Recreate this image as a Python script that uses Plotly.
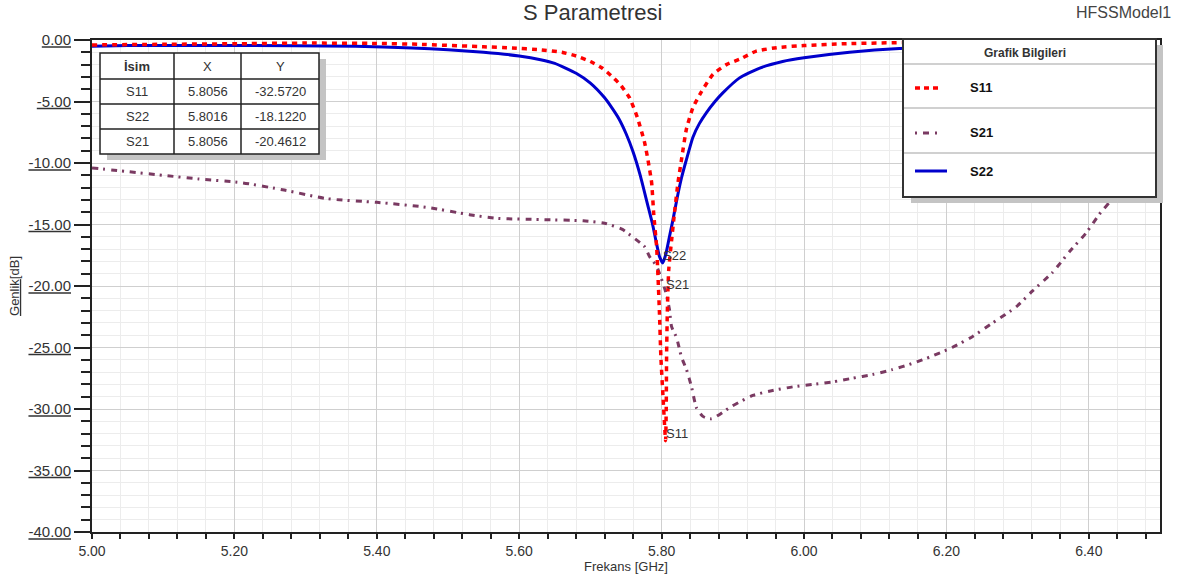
import plotly.graph_objects as go

# ---------------- data ----------------
s11_f = [5.00, 5.10, 5.21, 5.30, 5.40, 5.46, 5.55, 5.59, 5.63, 5.66, 5.68, 5.70, 5.717, 5.731,
         5.743, 5.755, 5.766, 5.776, 5.781, 5.786, 5.789, 5.793, 5.795, 5.797, 5.799, 5.802,
         5.8056, 5.8065, 5.807, 5.808, 5.810, 5.814, 5.818, 5.823, 5.828, 5.835, 5.844, 5.856,
         5.872, 5.891, 5.912, 5.933, 5.965, 6.00, 6.06, 6.15, 6.22, 6.30, 6.38, 6.44, 6.50]
s11_db = [-0.40, -0.35, -0.30, -0.25, -0.28, -0.35, -0.55, -0.65, -0.80, -1.0, -1.3, -1.75, -2.3, -3.0,
          -3.7, -4.7, -6.3, -8.3, -9.8, -11.6, -14.2, -16.8, -19.3, -22.2, -25.8, -29.0,
          -32.572, -30.0, -25.8, -22.2, -18.7, -16.3, -14.1, -11.6, -9.7, -7.2, -5.5, -4.2,
          -2.8, -2.0, -1.5, -0.9, -0.6, -0.45, -0.3, -0.2, -0.2, -0.4, -0.9, -1.9, -4.5]

s22_f = [5.00, 5.05, 5.20, 5.37, 5.45, 5.50, 5.55, 5.60, 5.63, 5.65, 5.68, 5.70, 5.72, 5.73,
         5.74, 5.75, 5.76, 5.77, 5.78, 5.787, 5.792, 5.797, 5.8016, 5.806, 5.811, 5.816, 5.822,
         5.828, 5.834, 5.844, 5.853, 5.863, 5.875, 5.886, 5.909, 5.937, 5.97, 6.00, 6.064,
         6.134, 6.20, 6.30, 6.40, 6.46, 6.50]
s22_db = [-0.5, -0.45, -0.45, -0.5, -0.65, -0.8, -1.0, -1.3, -1.6, -1.9, -2.7, -3.5, -4.7, -5.5,
          -6.4, -7.6, -9.1, -11.0, -13.3, -14.9, -16.3, -17.6, -18.122, -17.4, -16.0, -14.6, -12.8,
          -11.2, -9.9, -7.9, -6.8, -5.9, -5.0, -4.3, -3.1, -2.3, -1.75, -1.45, -1.0,
          -0.7, -0.6, -0.7, -1.3, -2.0, -3.0]

s21_f = [5.00, 5.05, 5.10, 5.15, 5.21, 5.27, 5.33, 5.40, 5.47, 5.53, 5.57, 5.63, 5.69, 5.72,
         5.745, 5.759, 5.776, 5.783, 5.793, 5.8056, 5.811, 5.814, 5.821, 5.828, 5.835, 5.842,
         5.849, 5.858, 5.870, 5.898, 5.928, 5.956, 5.984, 6.012, 6.04, 6.068, 6.096, 6.124,
         6.152, 6.18, 6.208, 6.237, 6.265, 6.298, 6.321, 6.349, 6.373, 6.396, 6.417, 6.429,
         6.46, 6.50]
s21_db = [-10.4, -10.7, -11.0, -11.3, -11.6, -12.2, -12.9, -13.2, -13.6, -14.2, -14.5, -14.6, -14.7, -14.9,
          -15.4, -16.0, -16.8, -17.6, -18.4, -20.4612, -21.9, -23.3, -24.2, -25.8, -26.8, -28.2,
          -29.9, -30.6, -30.8, -29.8, -28.9, -28.5, -28.2, -28.0, -27.8, -27.5, -27.2, -26.8,
          -26.3, -25.7, -25.0, -24.1, -23.0, -21.7, -20.4, -18.9, -17.2, -15.7, -14.0, -13.2,
          -11.0, -8.5]

# marker table
mk_names = ["S11", "S22", "S21"]
mk_x = [5.8056, 5.8016, 5.8056]
mk_y = [-32.5720, -18.1220, -20.4612]

y_ticks = [0, -5, -10, -15, -20, -25, -30, -35, -40]
x_ticks = [5.0, 5.2, 5.4, 5.6, 5.8, 6.0, 6.2, 6.4]

# ---------------- layout geometry (pixels) ----------------
W, H = 1191, 580
PX0, PX1, PY0, PY1 = 92, 1160, 40, 532
FONT = "Arial, Liberation Sans, sans-serif"
TXT = "#333333"


def px(x):
    return (x - PX0) / (PX1 - PX0)


def py(y):
    return (PY1 - y) / (PY1 - PY0)


fig = go.Figure()

fig.add_trace(go.Scatter(x=s21_f, y=s21_db, mode="lines", name="S21",
                         line=dict(color="#7a3a62", width=3, dash="6px,5px,2px,6px",
                                   shape="spline", smoothing=0.6)))
fig.add_trace(go.Scatter(x=s22_f, y=s22_db, mode="lines", name="S22",
                         line=dict(color="#0000cc", width=3, shape="spline", smoothing=0.5)))
fig.add_trace(go.Scatter(x=s11_f, y=s11_db, mode="lines", name="S11",
                         line=dict(color="#ff0000", width=3.5, dash="5px,5px",
                                   shape="spline", smoothing=0.5)))

shapes = []
annotations = []

# marker labels on curves
for n, x, y in zip(mk_names, mk_x, mk_y):
    annotations.append(dict(x=x, y=y, xref="x", yref="y", text=n, showarrow=False,
                            xanchor="left", yanchor="middle", yshift=7, xshift=-2,
                            font=dict(family=FONT, size=13, color=TXT)))

# ---- marker table (top-left) ----
tx0, tx1, ty0, ty1 = 100, 319, 53, 154
cols = [100, 174, 241, 319]
rows = [53, 79, 104, 129, 154]
shapes.append(dict(type="rect", xref="paper", yref="paper", x0=px(tx0 + 7), x1=px(tx1 + 7),
                   y0=py(ty1 + 6), y1=py(ty0 + 6), fillcolor="#c4c4c4", line=dict(width=0), layer="above"))
shapes.append(dict(type="rect", xref="paper", yref="paper", x0=px(tx0), x1=px(tx1),
                   y0=py(ty1), y1=py(ty0), fillcolor="white", line=dict(color="#222", width=1.5), layer="above"))
for c in cols[1:-1]:
    shapes.append(dict(type="line", xref="paper", yref="paper", x0=px(c), x1=px(c),
                       y0=py(ty1), y1=py(ty0), line=dict(color="#222", width=1.5), layer="above"))
for r in rows[1:-1]:
    shapes.append(dict(type="line", xref="paper", yref="paper", x0=px(tx0), x1=px(tx1),
                       y0=py(r), y1=py(r), line=dict(color="#222", width=1.5), layer="above"))
header = ["<b>İsim</b>", "X", "Y"]
cells = [header] + [[n, f"{x:.4f}", f"{y:.4f}"] for n, x, y in zip(mk_names, mk_x, mk_y)]
for ri, row in enumerate(cells):
    yc = (rows[ri] + rows[ri + 1]) / 2
    for ci, t in enumerate(row):
        xc = (cols[ci] + cols[ci + 1]) / 2
        annotations.append(dict(x=px(xc), y=py(yc), xref="paper", yref="paper", text=t,
                                showarrow=False, xanchor="center", yanchor="middle",
                                font=dict(family=FONT, size=13, color=TXT)))

# ---- custom legend box (top-right) ----
lx0, lx1, ly0, ly1 = 903, 1156, 39, 197
shapes.append(dict(type="rect", xref="paper", yref="paper", x0=px(lx0 + 8), x1=px(lx1 + 7),
                   y0=py(ly1 + 6), y1=py(ly0 + 6), fillcolor="#c4c4c4", line=dict(width=0), layer="above"))
shapes.append(dict(type="rect", xref="paper", yref="paper", x0=px(lx0), x1=px(lx1),
                   y0=py(ly1), y1=py(ly0), fillcolor="white", line=dict(color="#333", width=2), layer="above"))
for sy in [64, 108, 153]:
    shapes.append(dict(type="line", xref="paper", yref="paper", x0=px(lx0 + 1), x1=px(lx1 - 1),
                       y0=py(sy), y1=py(sy), line=dict(color="#d0d0d0", width=2), layer="above"))
annotations.append(dict(x=px(1025), y=py(53), xref="paper", yref="paper", text="<b>Grafik Bilgileri</b>",
                        showarrow=False, xanchor="center", yanchor="middle",
                        font=dict(family=FONT, size=12, color=TXT)))
leg_items = [("S11", 88, "#ff0000", "5px,4px", 3.5, 942),
             ("S21", 133, "#7a3a62", "2px,6px,6px,6px", 3, 942),
             ("S22", 171, "#0000cc", "solid", 3, 947)]
for name, yy, col, dash, w, xe in leg_items:
    shapes.append(dict(type="line", xref="paper", yref="paper", x0=px(915), x1=px(xe),
                       y0=py(yy), y1=py(yy), line=dict(color=col, width=w, dash=dash), layer="above"))
    annotations.append(dict(x=px(968), y=py(yy), xref="paper", yref="paper", text=f"<b>{name}</b>",
                            showarrow=False, xanchor="left", yanchor="middle",
                            font=dict(family=FONT, size=13, color="#111")))

# ---- titles ----
annotations.append(dict(x=px(592), y=py(13), xref="paper", yref="paper", text="S Parametresi",
                        showarrow=False, xanchor="center", yanchor="middle",
                        font=dict(family=FONT, size=22, color=TXT)))
annotations.append(dict(x=px(1173), y=py(12), xref="paper", yref="paper", text="HFSSModel1",
                        showarrow=False, xanchor="right", yanchor="middle",
                        font=dict(family=FONT, size=16, color="#444")))

fig.update_layout(
    width=W, height=H,
    margin=dict(l=PX0, r=W - PX1, t=PY0, b=H - PY1, autoexpand=False),
    paper_bgcolor="white", plot_bgcolor="white",
    showlegend=False,
    shapes=shapes, annotations=annotations,
    font=dict(family=FONT, color=TXT),
)
fig.update_xaxes(
    range=[5.0, 6.5], tickvals=x_ticks, ticktext=[f"{v:.2f}" for v in x_ticks],
    automargin=False,
    showgrid=True, gridcolor="#cfcfcf", gridwidth=1,
    showline=True, linecolor="#222", linewidth=2, mirror=True,
    ticks="outside", ticklen=5, tickcolor="#222", tickwidth=2,
    tickfont=dict(family=FONT, size=14, color=TXT),
    minor=dict(dtick=0.04, tick0=5.0, showgrid=True, gridcolor="#ececec", ticks="outside",
               ticklen=5, tickcolor="#222", tickwidth=2),
    title=dict(text="Frekans [GHz]", font=dict(family=FONT, size=13, color=TXT), standoff=4),
    zeroline=False,
)
fig.update_yaxes(
    range=[-40, 0], tickvals=y_ticks, ticktext=[f"<u>{v:.2f}</u>" for v in y_ticks],
    automargin=False,
    showgrid=True, gridcolor="#cfcfcf", gridwidth=1,
    showline=True, linecolor="#222", linewidth=2, mirror=True,
    ticks="outside", ticklen=16, tickcolor="#222", tickwidth=2,
    tickfont=dict(family=FONT, size=15, color=TXT),
    minor=dict(dtick=1, tick0=0, showgrid=True, gridcolor="#ececec", ticks="outside",
               ticklen=9, tickcolor="#222", tickwidth=2),
    title=dict(text="<u>Genlik</u>[dB]", font=dict(family=FONT, size=13, color=TXT), standoff=6),
    zeroline=False,
)

fig.write_html("out.html")
